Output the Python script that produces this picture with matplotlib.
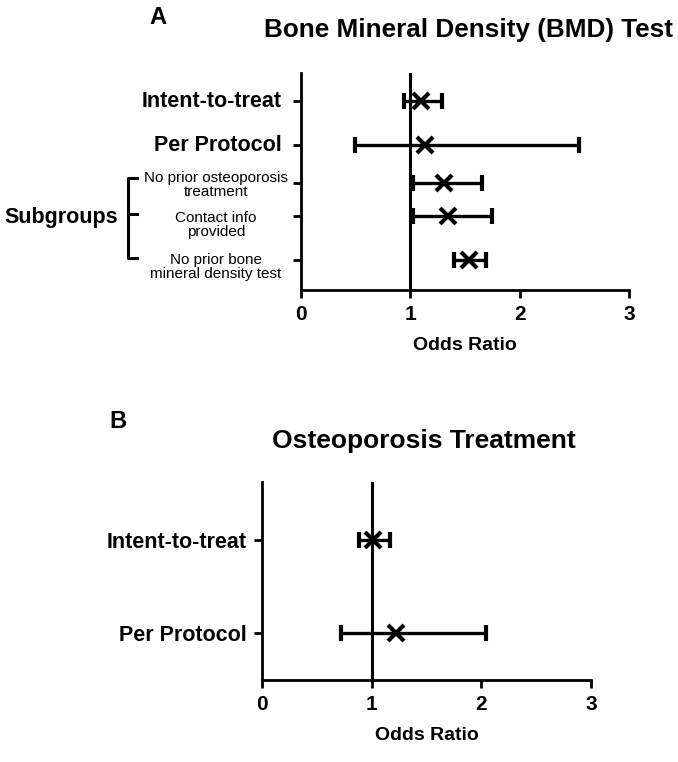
import matplotlib.pyplot as plt

plt.rcParams['font.family'] = ['Liberation Sans', 'DejaVu Sans']

# Panel A: BMD test
a_labels = ['Intent-to-treat', 'Per Protocol', 'No prior osteoporosis\ntreatment',
            'Contact info\nprovided', 'No prior bone\nmineral density test']
a_or = [1.10, 1.13, 1.31, 1.34, 1.54]
a_lo = [0.94, 0.49, 1.02, 1.02, 1.40]
a_hi = [1.29, 2.54, 1.66, 1.75, 1.69]

# Panel B: osteoporosis treatment
b_labels = ['Intent-to-treat', 'Per Protocol']
b_or = [1.01, 1.22]
b_lo = [0.88, 0.72]
b_hi = [1.17, 2.04]

ticks = [0, 1, 2, 3]

W, H = 678, 762
fig = plt.figure(figsize=(W / 100, H / 100), dpi=100)


def box(x0, x1, ytop, ybot):
    return [x0 / W, 1 - ybot / H, (x1 - x0) / W, (ybot - ytop) / H]


def forest(ax, orr, lo, hi, ypos, ylim):
    xerr = [[o - l for o, l in zip(orr, lo)], [h - o for o, h in zip(orr, hi)]]
    ax.axvline(1, color='black', lw=2.2, zorder=1)
    ax.errorbar(orr, ypos, xerr=xerr, fmt='x', color='black', ms=11, mew=3,
                elinewidth=2.4, capsize=6, capthick=2.4, zorder=3)
    ax.set_xlim(0, 3)
    ax.set_ylim(0, ylim)
    ax.set_xticks(ticks)
    ax.set_xticklabels([str(t) for t in ticks], fontsize=15, fontweight='bold')
    for s in ['top', 'right']:
        ax.spines[s].set_visible(False)
    ax.spines['left'].set_linewidth(2)
    ax.spines['bottom'].set_linewidth(2)
    ax.tick_params(axis='both', width=2, length=6, direction='out')
    ax.tick_params(axis='x', pad=5)
    ax.set_xlabel('Odds Ratio', fontsize=14, fontweight='bold', labelpad=9)
    ax.set_yticks(ypos)


# panel A
axA = fig.add_axes(box(301, 629, 73, 290))
ypA = [189, 145, 107, 74, 30]
forest(axA, a_or, a_lo, a_hi, ypA, 217)
axA.set_yticklabels([])
# small subgroup labels sit a little below their ticks
sub_shift = [0, 0, -2, -9, -7]
for i, lab in enumerate(a_labels):
    if i < 2:
        axA.text(-0.058, ypA[i], lab, ha='right', va='center', fontsize=15.5,
                 fontweight='bold', transform=axA.get_yaxis_transform())
    else:
        axA.text(-0.259, ypA[i] + sub_shift[i], lab, ha='center', va='center',
                 fontsize=11, linespacing=1.05, transform=axA.get_yaxis_transform())

# bracket for subgroups
fig.lines.append(plt.Line2D([137 / W, 128 / W, 128 / W, 137 / W],
                            [1 - 178 / H, 1 - 178 / H, 1 - 258 / H, 1 - 258 / H],
                            color='black', lw=2.2, transform=fig.transFigure))
fig.lines.append(plt.Line2D([128 / W, 137 / W], [1 - 214 / H, 1 - 214 / H],
                            color='black', lw=2.2, transform=fig.transFigure))
fig.text(61 / W, 1 - 217 / H, 'Subgroups', ha='center', va='center',
         fontsize=15.5, fontweight='bold')

fig.text(158 / W, 1 - 18 / H, 'A', ha='center', va='center', fontsize=17, fontweight='bold')
fig.text(468 / W, 1 - 30 / H, 'Bone Mineral Density (BMD) Test', ha='center', va='center',
         fontsize=18.8, fontweight='bold')

# panel B
axB = fig.add_axes(box(262, 591, 482, 680))
ypB = [140, 47]
forest(axB, b_or, b_lo, b_hi, ypB, 198)
axB.set_yticklabels(b_labels, fontsize=15.5, fontweight='bold')
axB.tick_params(axis='y', pad=5)

fig.text(118 / W, 1 - 422 / H, 'B', ha='center', va='center', fontsize=17, fontweight='bold')
fig.text(424 / W, 1 - 441 / H, 'Osteoporosis Treatment', ha='center', va='center',
         fontsize=19, fontweight='bold')

fig.savefig('out.png', dpi=100)
